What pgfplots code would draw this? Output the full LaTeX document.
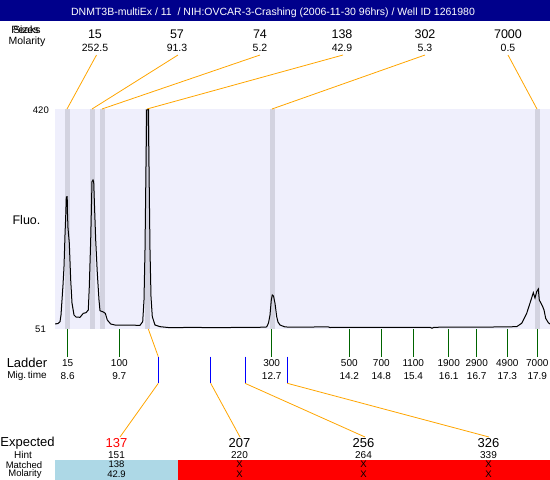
\documentclass[border=0pt]{standalone}
\usepackage{pgfplots}
\pgfplotsset{compat=1.18}
\usepackage{fontspec}
\setmainfont{Liberation Sans}
\definecolor{navybar}{RGB}{0,0,139}
\definecolor{lav}{RGB}{239,239,252}
\definecolor{stripe}{RGB}{211,211,224}
\definecolor{orng}{RGB}{255,165,0}
\definecolor{dgreen}{RGB}{0,100,0}
\definecolor{lblue}{RGB}{173,216,230}
\newcommand{\fs}[1]{\fontsize{#1}{#1}\selectfont}
\tikzset{
  tA/.style={font=\fs{12.5}, inner sep=0pt},
  tB/.style={font=\fs{10.5}, inner sep=0pt},
  tC/.style={font=\fs{13}, inner sep=0pt},
  tD/.style={font=\fs{10}, inner sep=0pt},
  tE/.style={font=\fs{9.5}, inner sep=0pt},
  gl/.style={dgreen, line width=0.8pt},
  bl/.style={blue, line width=0.8pt},
  ol/.style={orng, line width=0.8pt},
}
\begin{document}
\begin{tikzpicture}
% main electropherogram
\begin{axis}[at={(55pt,151pt)}, anchor=south west, scale only axis,
  width=495pt, height=220pt, xmin=55, xmax=550, ymin=51, ymax=420,
  hide axis, clip=true]
\fill[lav] (axis cs:55,51) rectangle (axis cs:550,420);
\fill[stripe] (axis cs:65,51) rectangle (axis cs:70,420);
\fill[stripe] (axis cs:90,51) rectangle (axis cs:95,420);
\fill[stripe] (axis cs:100,51) rectangle (axis cs:105,420);
\fill[stripe] (axis cs:145,51) rectangle (axis cs:150,420);
\fill[stripe] (axis cs:270,51) rectangle (axis cs:275,420);
\fill[stripe] (axis cs:535,51) rectangle (axis cs:540,420);
\addplot[black, line width=1pt, mark=none] coordinates {
(55,59.4) (58,60.2) (60,63.2) (61,74.5) (62,99.6) (63,124.8) (64,155.5)
(65,208.7) (65.7,239.4) (66.3,272.4) (67.2,272.9) (67.5,243.9) (68,220.4)
(69.3,195.3) (70.7,133.2) (72,94.6) (74,74.5) (76,71.1) (80,70.6)
(83.3,77.3) (86,78.3) (88.3,82.9) (89.3,121.9) (90.7,200.3) (92,298.1)
(93,300.9) (93.7,297.6) (94.3,267.4) (95.7,200.3) (97.3,144.9) (99,99.6)
(100,81.7) (103.3,79.5) (105.3,77.3) (107.3,66.1) (110.7,59.4) (115,57.7)
(140,57.2) (142.7,63.2) (144,99.6) (145,183.5) (146,323.2) (146.7,418.3)
(148.3,419.5) (149,323.2) (150,183.5) (151,105.2) (152.3,71.6) (155,57.7)
(160,54.9) (170,53.2) (200,53.9) (203,53.2) (230,53.5) (260,53.9)
(266.7,54.4) (268.5,61.1) (270,74.5) (271.3,99.6) (272.3,108) (273.5,106.4)
(275,94.1) (276.7,71.6) (278,62.7) (280,57.7) (285,54.4) (300,54.0)
(328,54.7) (330,53.5) (350,53.9) (430,53.9) (432,52.2) (434,53.9)
(500,54.4) (516.7,54.9) (521.7,60.6) (526.7,77.3) (531,99.6) (533.3,111.9)
(535,103) (536.7,113.6) (538.3,118.1) (539.3,99.6) (541,94.1) (542.7,88.4)
(544,82.9) (545.7,68.9) (548.3,61.6) (550,59.4)
};
\end{axis}
% overlay in pixel coordinates
\begin{axis}[at={(0pt,0pt)}, anchor=south west, scale only axis,
  width=550pt, height=480pt, xmin=0, xmax=550, ymin=0, ymax=480,
  y dir=reverse, hide axis, clip=false]
\fill[navybar] (axis cs:0,0) rectangle (axis cs:550,21);
\node[white, font=\fs{10.5}, inner sep=0pt] at (axis cs:273,12.5)
  {DNMT3B-multiEx / 11 \ / NIH:OVCAR-3-Crashing (2006-11-30 96hrs) / Well ID 1261980};
% top-left labels
\node[tB] at (axis cs:26,29.5) {Peaks};
\node[tB] at (axis cs:26,29.5) {Sizes};
\node[tB] at (axis cs:27,41.5) {Molarity};
% peak sizes and molarity
\foreach \xx/\s/\m in {95/15/252.5, 177/57/91.3, 260/74/5.2, 342/138/42.9, 425/302/5.3, 508/7000/0.5}{
  \edef\temp{\noexpand\node[tA] at (axis cs:\xx,34) {\s};
    \noexpand\node[tB] at (axis cs:\xx,47.5) {\m};}
  \temp
}
\draw[ol] (axis cs:96.5,55) -- (axis cs:67,109);
\draw[ol] (axis cs:178,55) -- (axis cs:92,109);
\draw[ol] (axis cs:260,55) -- (axis cs:102,109);
\draw[ol] (axis cs:343,55) -- (axis cs:147,109);
\draw[ol] (axis cs:425,55) -- (axis cs:272,109);
\draw[ol] (axis cs:508,55) -- (axis cs:537,109);
% y labels
\node[font=\fs{9.5}, inner sep=0pt, anchor=east] at (axis cs:49,110) {420};
\node[font=\fs{9.5}, inner sep=0pt, anchor=east] at (axis cs:46,329.5) {51};
\node[tA] at (axis cs:26.5,220) {Fluo.};
% ladder
\node[tC] at (axis cs:27,363.3) {Ladder};
\node[tD] at (axis cs:27,376) {Mig.\,time};
\foreach \xx/\s/\t in {67.7/15/8.6, 119.3/100/9.7, 271.7/300/12.7, 349.3/500/14.2, 381.3/700/14.8, 413.3/1100/15.4, 448.7/1900/16.1, 476.7/2900/16.7, 507.3/4900/17.3, 537.3/7000/17.9}{
  \edef\temp{\noexpand\draw[gl] (axis cs:\xx,329) -- (axis cs:\xx,356.7);
    \noexpand\node[tD] at (axis cs:\xx,363.3) {\s};
    \noexpand\node[tD] at (axis cs:\xx,376.5) {\t};}
  \temp
}
% expected markers
\draw[bl] (axis cs:158.3,356.7) -- (axis cs:158.3,383.3);
\draw[bl] (axis cs:210.7,356.7) -- (axis cs:210.7,383.3);
\draw[bl] (axis cs:245,356.7) -- (axis cs:245,383.3);
\draw[bl] (axis cs:287.3,356.7) -- (axis cs:287.3,383.3);
\draw[ol] (axis cs:148.3,329) -- (axis cs:158.3,356.7);
\draw[ol] (axis cs:158.3,383.3) -- (axis cs:120,437);
\draw[ol] (axis cs:210.7,383.3) -- (axis cs:240,437);
\draw[ol] (axis cs:245,383.3) -- (axis cs:365,437);
\draw[ol] (axis cs:287.3,383.3) -- (axis cs:489,437);
% bottom table
\fill[lblue] (axis cs:55,459.5) rectangle (axis cs:178.3,480);
\fill[red] (axis cs:178.3,459.5) rectangle (axis cs:550,480);
\node[tC] at (axis cs:27.5,443.5) {Expected};
\node[tD] at (axis cs:23,455) {Hint};
\node[tE] at (axis cs:24,464.7) {Matched};
\node[tE] at (axis cs:25,474.3) {Molarity};
\node[tC, red] at (axis cs:116.5,443.5) {137};
\node[tC] at (axis cs:239.5,443.5) {207};
\node[tC] at (axis cs:363.5,443.5) {256};
\node[tC] at (axis cs:488.5,443.5) {326};
\foreach \xx/\h/\ma/\mo in {116.5/151/138/42.9, 239.5/220/X/X, 363.5/264/X/X, 488.5/339/X/X}{
  \edef\temp{\noexpand\node[tD] at (axis cs:\xx,455) {\h};
    \noexpand\node[tE] at (axis cs:\xx,464.7) {\ma};
    \noexpand\node[tE] at (axis cs:\xx,474.3) {\mo};}
  \temp
}
\end{axis}
\pgfresetboundingbox
\path (0pt,0pt) rectangle (550pt,480pt);
\end{tikzpicture}
\end{document}
